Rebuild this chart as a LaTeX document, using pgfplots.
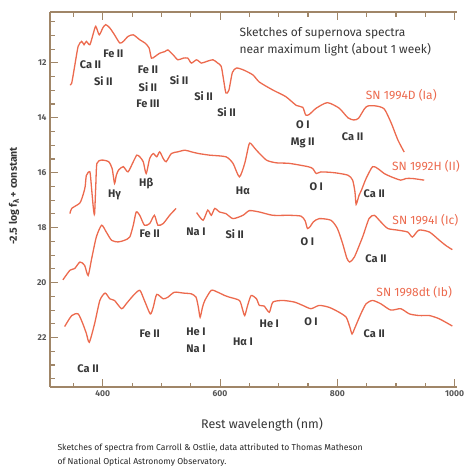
\documentclass[border=0pt]{standalone}
\usepackage{pgfplots}
\pgfplotsset{compat=1.18}
\usepackage{fontspec}
\setmainfont{Fira Sans}
\definecolor{spec}{RGB}{236,106,78}
\definecolor{frame}{RGB}{160,134,104}
\definecolor{ink}{RGB}{55,55,55}
\pgfplotsset{specline/.style={draw=spec, line width=1.3pt, smooth, tension=0.4, mark=none}}

\begin{document}
\begin{tikzpicture}[
    lbl/.style={font=\bfseries\fontsize{11}{13}\selectfont, text=ink},
    sn/.style={font=\fontsize{12}{14}\selectfont, text=spec},
]
\useasboundingbox (0pt,0pt) rectangle (467pt,-468pt);
\begin{axis}[
    at={(50pt,-387pt)}, anchor=south west,
    width=407pt, height=375pt, scale only axis,
    xmin=310, xmax=1004, ymin=10.15, ymax=23.8, y dir=reverse,
    axis x line*=box, axis y line*=left,
    axis line style={frame, line width=1.3pt},
    xtick={400,600,800,1000},
    minor xtick={350,450,500,550,650,700,750,850,900,950},
    ytick={12,14,16,18,20,22},
    minor ytick={10.5,11,11.5,12.5,13,13.5,14.5,15,15.5,16.5,17,17.5,18.5,19,19.5,20.5,21,21.5,22.5,23,23.5},
    tick align=inside,
    major tick length=8pt, minor tick length=4.5pt,
    every tick/.style={frame, line width=1.1pt},
    ticklabel style={font=\bfseries\fontsize{8.5}{10}\selectfont, text=ink!85},
    /pgf/number format/assume math mode=true,
    /pgf/number format/1000 sep={},
    clip=false,
]
% SN 1994D (Ia)
\addplot[specline] coordinates {
(344,12.8) (347,12.74) (352,12.13) (358,11.4) (364,11.22) (368,11.34) (372,11.22)
(378,11.34) (384,10.92) (388,10.67) (394,10.98) (400,10.73) (405,10.61) (412,10.73)
(420,10.98) (429,11.28) (435,11.22) (443,11.04) (452,10.98) (463,11.16) (472,11.28)
(479,11.46) (483,11.83) (489,11.77) (497,11.65) (506,11.59) (511,11.53) (520,11.71)
(528,11.89) (537,11.83) (545,11.83) (551,12.01) (560,11.89) (568,12.01) (577,11.95)
(588,11.89) (596,12.01) (602,12.13) (606,12.62) (610,13.1) (615,13.0) (621,12.35)
(628,12.19) (640,12.26) (656,12.44) (667,12.7) (690,12.99) (712,13.23) (730,13.55)
(741,13.62) (746,13.9) (752,13.88) (764,13.65) (783,13.45) (803,13.65) (818,14.0)
(828,14.08) (836,14.02) (846,13.68) (852,13.57) (866,13.57) (880,13.68) (892,14.2)
(903,14.8) (914,15.25)
};
% SN 1992H (II)
\addplot[specline] coordinates {
(344,17.49) (347,17.3) (361,17.1) (367,16.76) (370,16.5) (372,16.1) (378,15.97)
(381,16.6) (384,17.3) (386,17.5) (388,16.5) (390,15.66) (398,15.54) (410,15.6)
(416,15.85) (420,16.39) (423,16.1) (427,15.9) (435,15.78) (443,15.97) (452,15.6)
(458,15.36) (463,15.42) (469,15.6) (474,16.03) (480,15.48) (486,15.3) (492,15.42)
(497,15.24) (503,15.48) (508,15.6) (517,15.3) (528,15.24) (540,15.18) (551,15.24)
(563,15.3) (582,15.36) (610,15.42) (622,15.66) (633,16.15) (642,15.66) (649,14.99)
(652,14.93) (662,15.18) (679,15.54) (696,15.64) (718,15.66) (750,15.78) (758,15.85)
(764,16.03) (772,15.97) (795,16.0) (818,16.09) (826,16.27) (830,16.7) (832,17.15)
(837,16.82) (841,16.64) (849,16.21) (860,15.78) (869,15.85) (880,16.03) (892,16.15)
(908,16.27) (917,16.21) (928,16.21) (948,16.27)
};
% SN 1994I (Ic)
\addplot[specline] coordinates {
(332,19.9) (344,19.55) (352,19.49) (361,19.25) (369,19.37) (375,19.74) (381,19.13)
(389,18.34) (398,17.91) (406,18.16) (415,18.46) (426,18.52) (437,18.46) (446,18.34)
(452,17.91) (457,17.43) (463,17.55) (471,17.91) (480,17.85) (488,17.55) (494,17.91)
(503,17.85) (514,17.55) (525,17.3)
};
\addplot[specline] coordinates {
(560,17.45) (571,17.73) (579,17.36) (585,17.55) (591,17.3) (599,17.43) (610,17.49)
(622,17.67) (639,17.55) (650,17.38) (667,17.43) (690,17.55) (718,17.55) (738,17.58)
(745,17.75) (749,18.03) (754,17.95) (759,17.79) (769,17.67) (789,17.73) (800,18.03)
(809,18.58) (816,19.1) (821,19.25) (829,19.07) (843,18.34) (854,17.67) (863,17.55)
(874,17.79) (886,18.03) (903,18.09) (920,18.16) (928,18.34) (939,18.09) (957,18.16)
(974,18.46) (985,18.65) (996,18.8)
};
% SN 1998dt (Ib)
\addplot[specline] coordinates {
(335,21.6) (347,21.2) (358,21.14) (366,21.5) (372,21.85) (377,22.17) (386,21.5)
(395,20.65) (404,20.38) (412,20.59) (420,20.65) (432,20.95) (440,20.77) (452,20.47)
(463,20.28) (471,20.65) (481,21.14) (486,20.9) (492,20.43) (503,20.59) (511,20.53)
(522,20.35) (537,20.38) (551,20.41) (559,20.53) (563,20.9) (566,21.26) (570,20.9)
(574,20.65) (585,20.28) (596,20.35) (608,20.47) (616,20.53) (633,20.65) (638,20.95)
(642,21.2) (647,20.83) (653,20.47) (662,20.59) (667,20.83) (675,20.85) (684,21.08)
(690,20.71) (707,20.65) (727,20.71) (741,20.83) (755,20.95) (769,20.83) (786,20.9)
(803,21.08) (815,21.26) (821,21.6) (825,21.87) (829,21.69) (840,21.14) (849,20.77)
(860,20.65) (874,20.77) (891,21.0) (908,20.95) (923,21.14) (940,21.2) (957,21.2)
(974,21.32) (996,21.58)
};
% line labels, SN 1994D
\node[lbl] at (axis cs:379,12.07) {Ca II};
\node[lbl] at (axis cs:418,11.67) {Fe II};
\node[lbl] at (axis cs:401,12.68) {Si II};
\node[lbl] at (axis cs:477,12.26) {Fe II};
\node[lbl] at (axis cs:477,12.89) {Si II};
\node[lbl] at (axis cs:477,13.5) {Fe III};
\node[lbl] at (axis cs:530,12.62) {Si II};
\node[lbl] at (axis cs:572,13.23) {Si II};
\node[lbl] at (axis cs:611,13.8) {Si II};
\node[lbl] at (axis cs:741,14.26) {O I};
\node[lbl] at (axis cs:741,14.9) {Mg II};
\node[lbl] at (axis cs:826,14.69) {Ca II};
\node[sn] at (axis cs:909,13.17) {SN 1994D (Ia)};
% SN 1992H
\node[lbl] at (axis cs:420,16.8) {Hγ};
\node[lbl] at (axis cs:474,16.39) {Hβ};
\node[lbl] at (axis cs:639,16.64) {Hα};
\node[lbl] at (axis cs:764,16.51) {O I};
\node[lbl] at (axis cs:863,16.76) {Ca II};
\node[sn] at (axis cs:951,15.78) {SN 1992H (II)};
% SN 1994I
\node[lbl] at (axis cs:480,18.22) {Fe II};
\node[lbl] at (axis cs:559,18.16) {Na I};
\node[lbl] at (axis cs:625,18.22) {Si II};
\node[lbl] at (axis cs:749,18.52) {O I};
\node[lbl] at (axis cs:866,19.13) {Ca II};
\node[sn] at (axis cs:950,17.73) {SN 1994I (Ic)};
% SN 1998dt
\node[lbl] at (axis cs:375,23.14) {Ca II};
\node[lbl] at (axis cs:480,21.87) {Fe II};
\node[lbl] at (axis cs:559,21.8) {He I};
\node[lbl] at (axis cs:559,22.41) {Na I};
\node[lbl] at (axis cs:639,22.17) {Hα I};
\node[lbl] at (axis cs:684,21.5) {He I};
\node[lbl] at (axis cs:755,21.44) {O I};
\node[lbl] at (axis cs:863,21.87) {Ca II};
\node[sn] at (axis cs:931,20.35) {SN 1998dt (Ib)};
\end{axis}
% title, axis labels and caption
\node[anchor=west, align=left, text=ink, font=\fontsize{12}{17}\selectfont]
  at (236pt,-41.5pt) {Sketches of supernova spectra\\near maximum light (about 1 week)};
\node[text=ink, font=\fontsize{12.5}{14}\selectfont] at (262pt,-425pt) {Rest wavelength (nm)};
\node[rotate=90, text=ink, font=\bfseries\fontsize{10.5}{12}\selectfont] at (14pt,-196pt)
  {-2.5 log f\raisebox{-0.35ex}{\fontsize{8}{8}\selectfont λ} + constant};
\node[anchor=west, align=left, text=black!85, font=\fontsize{8.6}{13.5}\selectfont] at (54pt,-455pt)
  {Sketches of spectra from Carroll \& Ostlie, data attributed to Thomas Matheson\\of National Optical Astronomy Observatory.};
\end{tikzpicture}
\end{document}
